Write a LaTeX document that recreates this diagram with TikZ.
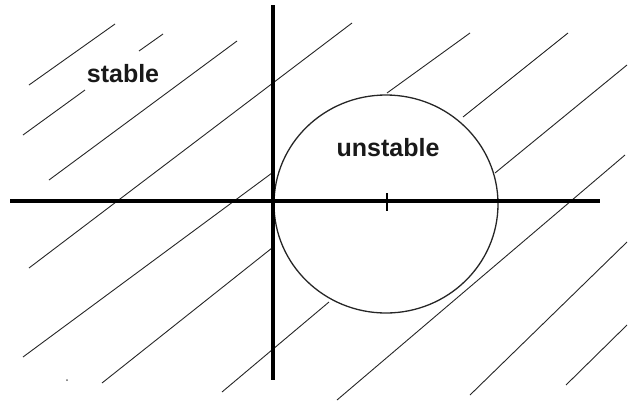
\documentclass[tikz,border=0pt]{standalone}
\usepackage{fontspec}
\setmainfont{Liberation Sans}
\begin{document}
\begin{tikzpicture}[x=1pt,y=-1pt,
  hatch/.style={line width=0.9pt,black!85},
  axis/.style={line width=4pt,black},
  lab/.style={inner sep=0pt,font=\fontsize{25}{30}\selectfont\bfseries,text=black!90}]
\useasboundingbox (0,0) rectangle (628,402);
% hatch lines
\draw[hatch] (29,85) -- (115,24);
\draw[hatch] (139,51) -- (163,34);
\draw[hatch] (23,135) -- (85,90);
\draw[hatch] (49,180) -- (237,41);
\draw[hatch] (29,268) -- (352,23);
\draw[hatch] (23,357) -- (272,173);
\draw[hatch] (102,383) -- (272,248);
\draw[hatch] (222,392) -- (329,302);
\draw[hatch] (387,93) -- (470,33);
\draw[hatch] (463,117) -- (568,33);
\draw[hatch] (495,173) -- (627,65);
\draw[hatch] (337,400) -- (625,155);
\draw[hatch] (470,395) -- (627,242);
\draw[hatch] (566,385) -- (627,325);
% circle
\draw[line width=1.3pt,black!85] (386,204) ellipse [x radius=112, y radius=109];
% axes
\draw[axis] (10,201) -- (600,201);
\draw[axis] (273,5) -- (273,380);
\draw[line width=2.5pt] (387,193) -- (387,211);
% stray dot
\fill[black!60] (67,380) circle (1);
% labels
\node[lab] (stable) at (123,74) {stable};
\node[lab] (unstable) at (388,148) {unstable};
\end{tikzpicture}
\end{document}
